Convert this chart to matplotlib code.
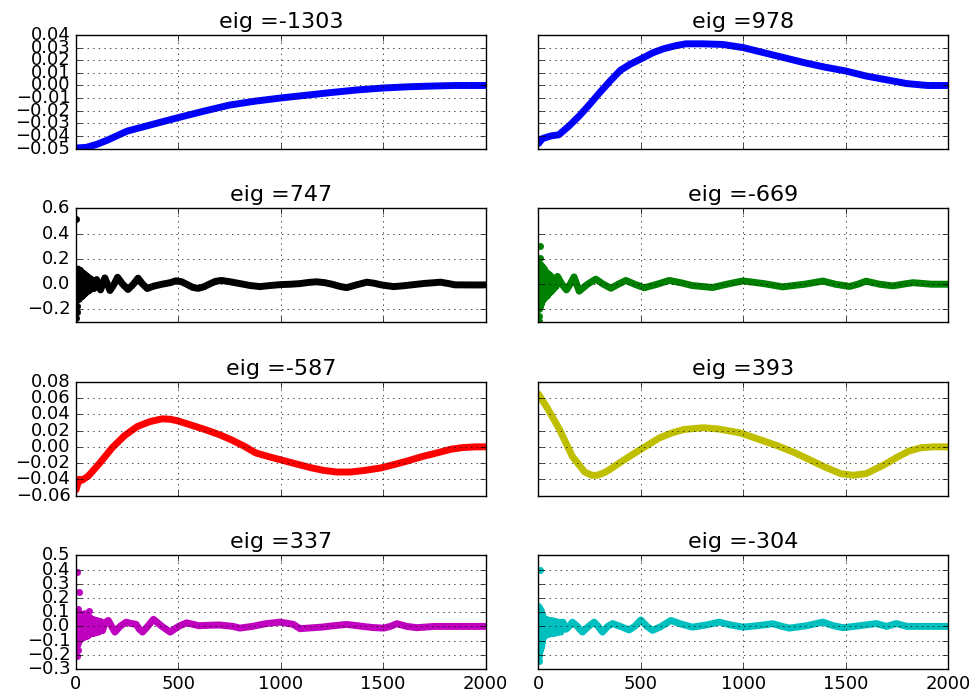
import matplotlib
matplotlib.use("Agg")
import matplotlib.pyplot as plt
from matplotlib.ticker import MultipleLocator

plt.style.use('classic')
plt.rcParams['xtick.labelsize'] = 13
plt.rcParams['ytick.labelsize'] = 13
plt.rcParams['axes.titlesize'] = 16

titles = ["eig =-1303", "eig =978", "eig =747", "eig =-669",
          "eig =-587", "eig =393", "eig =337", "eig =-304"]
colors = ['b', 'b', 'k', 'g', 'r', 'y', 'm', 'c']

# ---- series 1 : eig -1303
x1 = [0, 50, 100, 150, 200, 250, 350, 500, 625, 750, 875, 1000, 1125, 1250,
      1375, 1500, 1625, 1750, 1850, 2000]
y1 = [-0.0495, -0.0490, -0.0467, -0.0435, -0.0398, -0.0361, -0.0318, -0.0254,
      -0.0203, -0.0155, -0.0124, -0.0099, -0.0077, -0.0055, -0.0035, -0.0020,
      -0.0010, -0.0004, 0.0, 0.0]

# ---- series 2 : eig 978
x2 = [0, 20, 60, 100, 150, 200, 250, 300, 350, 400, 450, 500, 560, 610, 670,
      720, 800, 900, 1000, 1100, 1200, 1300, 1400, 1500, 1600, 1700, 1800,
      1900, 2000]
y2 = [-0.046, -0.042, -0.040, -0.039, -0.032, -0.024, -0.015, -0.0055, 0.0035,
      0.012, 0.017, 0.021, 0.026, 0.029, 0.0315, 0.033, 0.033, 0.0325, 0.030,
      0.026, 0.022, 0.018, 0.0145, 0.0115, 0.0075, 0.0045, 0.0015, 0.0, 0.0]

# ---- series 3 : eig 747
x3 = [0, 2, 4, 6, 8, 10, 12, 14, 16, 18, 20, 22, 24, 26, 28, 31, 34, 37, 40,
      44, 48, 52, 56, 60, 64, 68, 72, 76, 88, 101, 120, 141, 166, 186, 203,
      228, 254, 280, 303, 326, 348, 380, 420, 460, 488, 515, 540, 570, 596,
      625, 650, 680, 710, 750, 800, 850, 898, 950, 1000, 1050, 1094, 1140,
      1176, 1215, 1250, 1290, 1322, 1370, 1420, 1455, 1490, 1551, 1600, 1650,
      1700, 1780, 1820, 1850, 1950, 2000]
y3 = [0.02, 0.12, -0.13, 0.11, -0.12, 0.12, -0.11, 0.10, -0.12, 0.11, -0.10,
      0.11, -0.10, 0.09, -0.10, 0.09, -0.09, 0.085, -0.08, 0.075, -0.07, 0.065,
      -0.06, 0.055, -0.05, 0.045, -0.04, 0.035, -0.035, 0.037, -0.045, 0.05,
      -0.05, 0.0, 0.055, 0.0, -0.042, 0.0, 0.048, 0.0, -0.034, -0.015, 0.0,
      0.012, 0.027, 0.02, 0.0, -0.025, -0.033, -0.02, 0.0, 0.022, 0.03, 0.02,
      0.005, -0.01, -0.019, -0.01, -0.003, 0.0, 0.005, 0.015, 0.019, 0.012,
      0.0, -0.018, -0.027, -0.005, 0.016, 0.008, -0.005, -0.019, -0.012,
      -0.003, 0.006, 0.016, 0.005, -0.005, -0.006, -0.005]
ox3 = [2, 1, 4, 7]
oy3 = [0.52, -0.27, -0.22, -0.17]

# ---- series 4 : eig -669
x4 = [0, 2, 4, 6, 8, 10, 12, 14, 16, 18, 20, 23, 26, 29, 32, 35, 38, 42, 46,
      50, 54, 58, 63, 68, 74, 80, 86, 93, 115, 137, 155, 174, 187, 199, 240,
      280, 317, 354, 390, 427, 470, 517, 580, 639, 700, 750, 851, 920, 998,
      1100, 1193, 1300, 1389, 1450, 1519, 1560, 1600, 1665, 1731, 1780, 1829,
      1920, 2000]
y4 = [0.0, 0.17, -0.20, 0.16, -0.19, 0.15, -0.17, 0.15, -0.15, 0.14, -0.13,
      0.13, -0.12, 0.12, -0.11, 0.10, -0.10, 0.09, -0.09, 0.08, -0.07, 0.07,
      -0.06, 0.05, -0.04, 0.04, -0.02, 0.062, 0.0, -0.045, 0.0, 0.058, 0.0,
      -0.055, 0.0, 0.04, 0.0, -0.032, 0.0, 0.03, 0.0, -0.028, 0.0, 0.03, 0.01,
      -0.01, -0.026, 0.0, 0.026, 0.005, -0.021, 0.0, 0.025, 0.0, -0.018, 0.0,
      0.024, 0.0, -0.013, 0.0, 0.012, 0.0, 0.0]
ox4 = [6, 3, 2, 8]
oy4 = [0.30, -0.25, -0.29, 0.21]

# ---- series 5 : eig -587
x5 = [0, 15, 30, 60, 116, 177, 238, 299, 360, 421, 460, 497, 560, 634, 700,
      756, 820, 878, 940, 1000, 1075, 1152, 1210, 1274, 1340, 1410, 1488, 1550,
      1610, 1690, 1762, 1830, 1884, 1950, 2000]
y5 = [-0.053, -0.040, -0.041, -0.036, -0.020, -0.001, 0.014, 0.025, 0.031,
      0.0345, 0.034, 0.032, 0.027, 0.021, 0.015, 0.009, 0.001, -0.0075, -0.012,
      -0.016, -0.021, -0.026, -0.029, -0.031, -0.031, -0.029, -0.026, -0.022,
      -0.018, -0.012, -0.0075, -0.003, -0.001, 0.0, 0.0]

# ---- series 6 : eig 393
x6 = [0, 43, 104, 165, 226, 260, 287, 320, 348, 408, 500, 591, 650, 713, 805,
      880, 988, 1080, 1171, 1250, 1323, 1400, 1476, 1537, 1600, 1689, 1750,
      1811, 1870, 1930, 2000]
y6 = [0.065, 0.048, 0.021, -0.0115, -0.031, -0.035, -0.035, -0.032, -0.028,
      -0.0177, -0.003, 0.011, 0.017, 0.0215, 0.0235, 0.022, 0.017, 0.009,
      0.001, -0.007, -0.0157, -0.025, -0.033, -0.035, -0.033, -0.022, -0.013,
      -0.005, -0.001, 0.0, 0.0]

# ---- series 7 : eig 337
x7 = [0, 3, 6, 9, 12, 15, 18, 21, 24, 27, 30, 34, 38, 42, 46, 50, 55, 60, 65,
      70, 75, 80, 86, 92, 98, 105, 112, 120, 130, 140, 150, 158, 174, 190, 215,
      245, 270, 293, 310, 325, 350, 378, 420, 460, 500, 540, 600, 650, 700,
      767, 800, 860, 930, 996, 1060, 1094, 1150, 1200, 1260, 1322, 1400, 1450,
      1502, 1535, 1567, 1615, 1665, 1750, 1850, 2000]
y7 = [0.0, 0.09, -0.14, 0.08, -0.12, 0.09, -0.10, 0.07, -0.09, 0.08, -0.08,
      0.07, -0.08, 0.09, -0.07, 0.06, -0.07, 0.07, -0.06, 0.06, -0.05, 0.05,
      -0.05, 0.045, -0.045, 0.04, -0.04, 0.035, -0.03, 0.02, 0.035, 0.042, 0.0,
      -0.04, 0.0, 0.03, 0.02, 0.015, -0.02, -0.04, 0.0, 0.05, 0.0, -0.04, 0.0,
      0.025, 0.005, 0.008, 0.01, 0.0, -0.012, 0.0, 0.02, 0.03, 0.015, -0.016,
      -0.01, -0.005, 0.005, 0.014, 0.0, -0.008, -0.012, 0.0, 0.019, 0.0,
      -0.009, 0.0, 0.0, 0.0]
ox7 = [3, 13, 4, 10, 8, 65]
oy7 = [0.38, 0.24, -0.21, -0.165, 0.12, 0.11]

# ---- series 8 : eig -304
x8 = [0, 2, 4, 6, 8, 10, 12, 14, 16, 18, 20, 23, 26, 30, 34, 38, 42, 47, 52,
      58, 64, 70, 77, 84, 92, 100, 110, 120, 135, 150, 166, 190, 215, 245, 272,
      292, 313, 338, 362, 400, 443, 470, 500, 530, 557, 600, 647, 700, 753,
      820, 883, 940, 998, 1070, 1144, 1190, 1226, 1310, 1389, 1440, 1487,
      1570, 1650, 1700, 1747, 1800, 1850, 2000]
y8 = [0.0, 0.14, -0.19, 0.13, -0.18, 0.12, -0.16, 0.11, -0.14, 0.09, -0.11,
      0.07, -0.08, 0.05, -0.06, 0.05, -0.06, 0.045, -0.055, 0.04, -0.05, 0.04,
      -0.05, 0.035, -0.045, 0.03, -0.04, 0.03, -0.02, 0.0, 0.03, 0.0, -0.04,
      0.0, 0.03, 0.0, -0.04, 0.0, 0.02, 0.0, -0.025, 0.0, 0.045, 0.0, -0.028,
      0.0, 0.042, 0.015, -0.005, 0.01, 0.03, 0.01, -0.005, 0.005, 0.019, 0.0,
      -0.012, 0.005, 0.03, 0.005, -0.009, 0.005, 0.02, 0.0, 0.02, 0.0, 0.0,
      0.0]
ox8 = [6, 3, 1]
oy8 = [0.40, -0.24, -0.21]

series = [(x1, y1, [], []), (x2, y2, [], []), (x3, y3, ox3, oy3),
          (x4, y4, ox4, oy4), (x5, y5, [], []), (x6, y6, [], []),
          (x7, y7, ox7, oy7), (x8, y8, ox8, oy8)]

row_ylims = [(-0.05, 0.04), (-0.3, 0.6), (-0.06, 0.08), (-0.3, 0.5)]
row_steps = [0.01, 0.2, 0.02, 0.1]

fig, axes = plt.subplots(4, 2, sharex=True, sharey='row',
                         figsize=(9.78, 6.98), dpi=100)
fig.patch.set_facecolor('white')
fig.subplots_adjust(left=0.0777, right=0.9693, top=0.9499, bottom=0.0415,
                    wspace=0.129, hspace=0.526)

for i, ax in enumerate(axes.flat):
    xs, ys, ox, oy = series[i]
    c = colors[i]
    ax.plot(xs, ys, '-', color=c, lw=5.0, solid_capstyle='round',
            solid_joinstyle='round')
    if ox:
        ax.plot(ox, oy, 'o', color=c, ms=4.5, mec=c)
    ax.set_title(titles[i])
    ax.grid(True)
    r = i // 2
    ax.set_ylim(*row_ylims[r])
    if r == 1:
        ax.set_yticks([-0.2, 0.0, 0.2, 0.4, 0.6])
    else:
        ax.yaxis.set_major_locator(MultipleLocator(row_steps[r]))
    ax.set_xlim(0, 2000)
    ax.set_xticks([0, 500, 1000, 1500, 2000])

fig.savefig("out.png", dpi=100, facecolor='white')
